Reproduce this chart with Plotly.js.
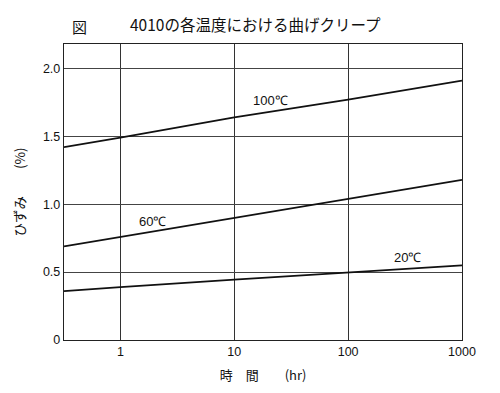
<!DOCTYPE html>
<html>
<head>
<meta charset="utf-8">
<script src="https://cdn.plot.ly/plotly-3.0.1.min.js"></script>
<style>html,body{margin:0;padding:0;background:#fff;}#chart{width:500px;height:393px;}</style>
</head>
<body>
<div id="chart"></div>
<script>
const hours = [0.32, 1, 10, 100, 1000];
const strain100 = [1.42, 1.49, 1.64, 1.77, 1.91];
const strain60 = [0.69, 0.76, 0.90, 1.04, 1.18];
const strain20 = [0.36, 0.39, 0.445, 0.495, 0.55];
const seriesLabels = ['100℃', '60℃', '20℃'];
const labelPos = [[21, 1.765], [1.9, 0.87], [330, 0.61]];
const xTicks = [1, 10, 100, 1000];
const xTickText = ['1', '10', '100', '1000'];
const yTicks = [0, 0.5, 1.0, 1.5, 2.0];
const yTickText = ['0', '0.5', '1.0', '1.5', '2.0'];

const jp = '"Noto Sans CJK JP", "Liberation Sans", sans-serif';
const lat = '"Liberation Sans", Arial, sans-serif';

const traces = [strain100, strain60, strain20].map((ys, i) => ({
  x: hours, y: ys, type: 'scatter', mode: 'lines', name: seriesLabels[i],
  line: {color: '#111', width: 1.8}, showlegend: false, hoverinfo: 'skip'
}));

const annotations = seriesLabels.map((t, i) => ({
  x: Math.log10(labelPos[i][0]), y: labelPos[i][1], xref: 'x', yref: 'y',
  text: t, showarrow: false, font: {family: lat, size: 13, color: '#111'}
}));
annotations.push({
  xref: 'paper', yref: 'paper', x: 0.015, y: 1.0, yshift: 18, xanchor: 'left', yanchor: 'middle',
  text: '図', showarrow: false, font: {family: jp, size: 15, color: '#111'}
});

const layout = {
  width: 500, height: 393,
  margin: {l: 64, r: 38, t: 44, b: 53},
  paper_bgcolor: '#fff', plot_bgcolor: '#fff',
  title: {text: '4010の各温度における曲げクリープ', font: {family: jp, size: 15.5, color: '#111'},
    x: 130/500, xanchor: 'left', xref: 'container', y: 1 - 26/393, yanchor: 'middle', yref: 'container'},
  xaxis: {
    type: 'log', range: [Math.log10(0.32), 3],
    tickvals: xTicks, ticktext: xTickText, ticks: '', 
    showgrid: true, gridcolor: '#333', gridwidth: 1,
    showline: true, linecolor: '#222', linewidth: 1.2, mirror: true, zeroline: false,
    tickfont: {family: lat, size: 12.5, color: '#111'},
    title: {text: '時　間　　(hr)', font: {family: jp, size: 13, color: '#111'}, standoff: 12}
  },
  yaxis: {
    range: [0, 2.18], tickvals: yTicks, ticktext: yTickText, ticks: '',
    showgrid: true, gridcolor: '#444', gridwidth: 1,
    showline: true, linecolor: '#222', linewidth: 1.2, mirror: true, zeroline: false,
    tickfont: {family: lat, size: 12.5, color: '#111'},
    title: {text: 'ひずみ　　(%)', font: {family: jp, size: 13.5, color: '#111'}, standoff: 14}
  },
  annotations: annotations
};

Plotly.newPlot('chart', traces, layout, {staticPlot: true, displayModeBar: false});
</script>
</body>
</html>
